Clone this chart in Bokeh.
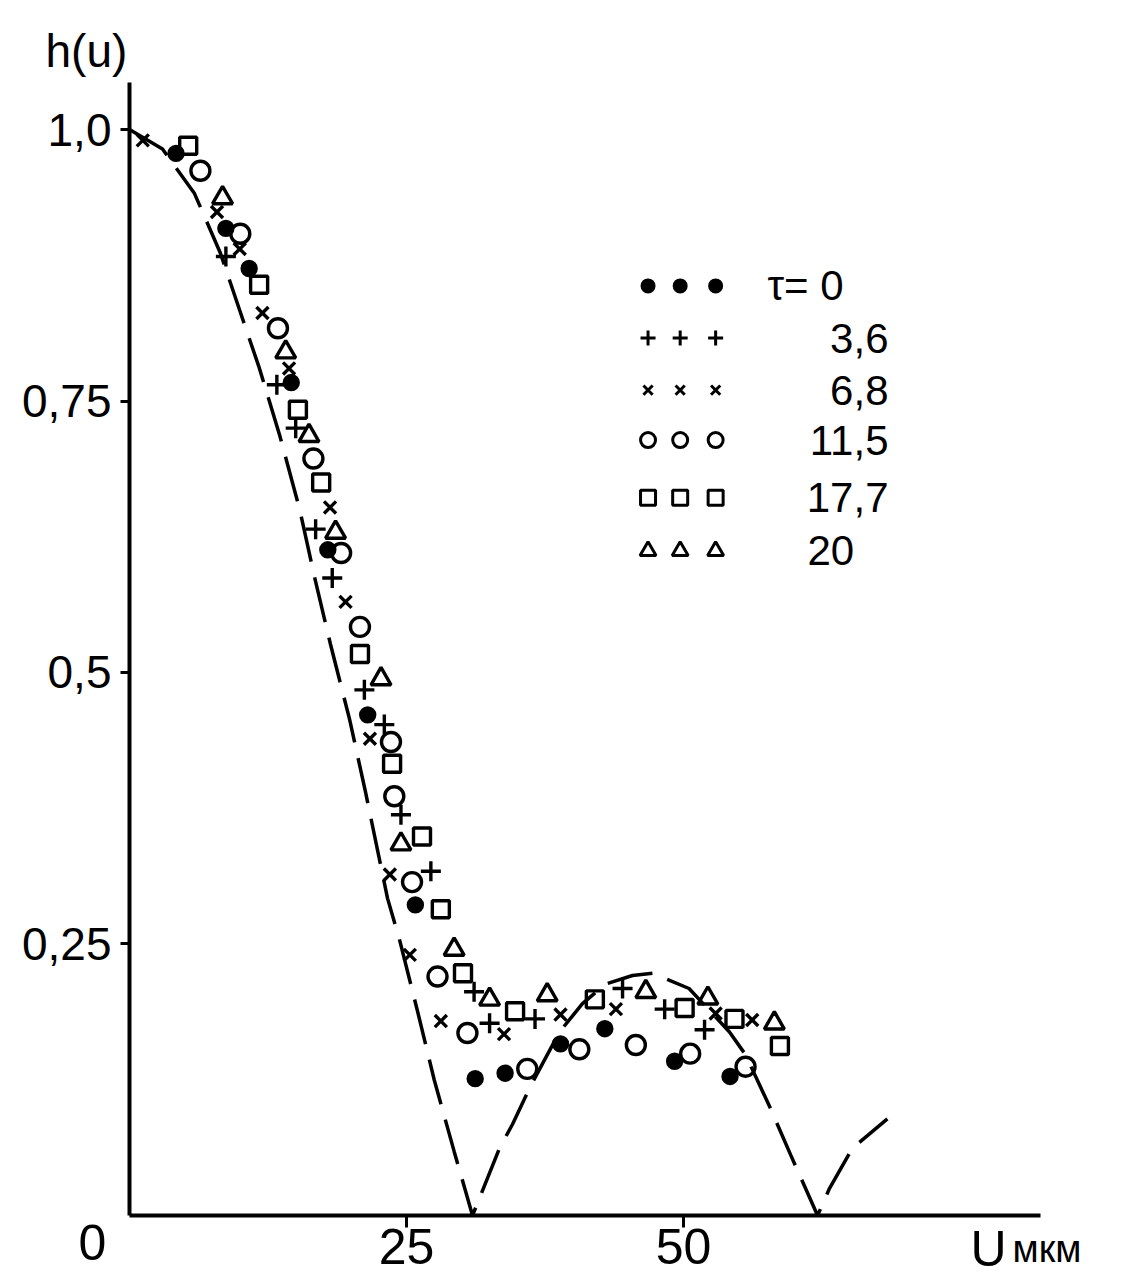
from bokeh.plotting import figure
from bokeh.models import Range1d, FixedTicker, Label, ColumnDataSource
from bokeh.core.properties import value
from bokeh.embed import file_html
from bokeh.resources import INLINE

FONT = "Liberation Sans"

# ---- data ----
# theoretical curve (dashed)
curve_u = [0, 2.98, 5.87, 8.21, 9.93, 11.73, 13.54, 15.34, 16.70, 18.14, 19.86, 21.3,
           23.29, 24.37, 26.0, 27.5, 29.3, 30.96, 33.4, 34.57, 36.19, 38.81, 40.88,
           42.96, 45.4, 47.2, 50.5, 54.15, 55.6, 57.85, 59.66, 62.1, 63.18, 65.25, 68.4]
curve_h = [1.0, 0.982, 0.941, 0.886, 0.834, 0.780, 0.719, 0.651, 0.588, 0.526, 0.457, 0.390,
           0.292, 0.254, 0.188, 0.125, 0.059, 0.0, 0.062, 0.084, 0.119, 0.169, 0.195,
           0.213, 0.221, 0.223, 0.209, 0.169, 0.148, 0.0985, 0.056, 0.0, 0.025, 0.062, 0.089]

# tau = 0 (filled dots)
u_t0 = [4.2, 8.7, 10.8, 14.6, 17.9, 21.5, 25.8, 31.2, 33.9, 38.9, 42.9, 49.2, 54.2]
h_t0 = [0.978, 0.909, 0.872, 0.767, 0.613, 0.461, 0.286, 0.126, 0.131, 0.158, 0.172, 0.142, 0.128]
# tau = 3.6 (+)
u_t1 = [8.7, 13.3, 15.0, 16.8, 18.3, 21.2, 23.0, 24.5, 27.2, 31.1, 32.5, 36.6, 44.5, 48.3, 51.9]
h_t1 = [0.883, 0.765, 0.725, 0.632, 0.587, 0.484, 0.452, 0.369, 0.317, 0.206, 0.177, 0.181, 0.209, 0.190, 0.171]
# tau = 6.8 (x)
u_t2 = [1.2, 7.9, 9.95, 12.0, 14.4, 18.1, 19.5, 21.7, 23.5, 25.3, 28.1, 33.8, 38.9, 43.9, 52.9, 56.2]
h_t2 = [0.99, 0.924, 0.890, 0.831, 0.780, 0.652, 0.565, 0.439, 0.314, 0.240, 0.179, 0.167, 0.185, 0.190, 0.186, 0.180]
# tau = 11.5 (o)
u_t3 = [6.4, 10.0, 13.4, 16.6, 19.1, 20.8, 23.6, 23.9, 25.5, 27.8, 30.5, 35.9, 40.6, 45.7, 50.6, 55.6]
h_t3 = [0.962, 0.904, 0.817, 0.697, 0.610, 0.542, 0.436, 0.386, 0.307, 0.220, 0.168, 0.135, 0.153, 0.157, 0.149, 0.137]
# tau = 17.7 (squares)
u_t4 = [5.3, 11.7, 15.2, 17.3, 20.8, 23.7, 26.4, 28.1, 30.1, 34.8, 42.0, 50.1, 54.6, 58.7]
h_t4 = [0.985, 0.857, 0.742, 0.675, 0.517, 0.416, 0.349, 0.282, 0.223, 0.188, 0.199, 0.191, 0.181, 0.156]
# tau = 20 (triangles)
u_t5 = [8.4, 14.1, 16.2, 18.6, 22.7, 24.5, 29.3, 32.5, 37.7, 46.6, 52.2, 58.2]
h_t5 = [0.937, 0.795, 0.718, 0.629, 0.494, 0.342, 0.245, 0.199, 0.203, 0.206, 0.200, 0.177]

tau_labels = ["τ=  0", "3,6", "6,8", "11,5", "17,7", "20"]
x_ticks = [25, 50]
x_tick_labels = ["25", "50"]
y_ticks = [0.25, 0.5, 0.75, 1.0]
y_tick_labels = ["0,25", "0,5", "0,75", "1,0"]
x_axis_end = 82.2
y_axis_end = 1.043

# ---- figure: frame fills the whole canvas, axes fixed at u=0 / h=0 ----
p = figure(width=1125, height=1276, x_range=Range1d(-11.64, 89.89), y_range=Range1d(-0.0562, 1.1188),
           output_backend="svg", toolbar_location=None,
           min_border=0, min_border_left=0, min_border_right=0, min_border_top=0, min_border_bottom=0)
p.grid.visible = False
p.outline_line_color = None

for ax in (p.xaxis[0], p.yaxis[0]):
    ax.fixed_location = 0
    ax.axis_line_width = 4
    ax.axis_line_color = "black"
    ax.major_tick_line_width = 3
    ax.major_tick_line_color = "black"
    ax.major_tick_in = 0
    ax.minor_tick_line_color = None
    ax.major_label_text_font = FONT
    ax.major_label_text_color = "black"

p.xaxis.bounds = (0, x_axis_end)
p.xaxis.ticker = FixedTicker(ticks=x_ticks)
p.xaxis.major_label_overrides = dict(zip(x_ticks, x_tick_labels))
p.xaxis.major_tick_out = 12
p.xaxis.major_label_standoff = 2
p.xaxis.major_label_text_font_size = "50px"

p.yaxis.bounds = (0, y_axis_end)
p.yaxis.ticker = FixedTicker(ticks=y_ticks)
p.yaxis.major_label_overrides = dict(zip(y_ticks, y_tick_labels))
p.yaxis.major_tick_out = 9
p.yaxis.major_label_standoff = 9
p.yaxis.major_label_text_font_size = "46px"

# dashed theoretical curve
p.line(curve_u, curve_h, line_color="black", line_width=3.5, line_dash="46 16")

series = [
    (u_t0, h_t0, "circle", 14, 12, True),
    (u_t1, h_t1, "cross", 20, 15, False),
    (u_t2, h_t2, "x", 17, 13, False),
    (u_t3, h_t3, "circle", 19, 15, False),
    (u_t4, h_t4, "square", 17, 15, False),
    (u_t5, h_t5, "triangle", 20, 16, False),
]

# legend layout (data units)
leg_marker_u = [46.8, 49.7, 52.9]
leg_row_h = [0.856, 0.808, 0.760, 0.714, 0.661, 0.612]
leg_text_u = [65.5, 68.5, 68.5, 68.5, 68.5, 65.4]

for i, (u, h, m, s, ls, filled) in enumerate(series):
    fill = "black" if filled else None
    p.scatter(u, h, marker=m, size=s, line_color="black", line_width=3.4, fill_color=fill)
    p.scatter(leg_marker_u, [leg_row_h[i]] * 3, marker=m, size=ls, line_color="black",
              line_width=3, fill_color=fill)

src = ColumnDataSource(dict(x=leg_text_u, y=leg_row_h, t=tau_labels))
p.text(x="x", y="y", text="t", source=src, text_font=value(FONT), text_font_size="42px",
       text_align="right", text_baseline="middle", text_color="black")

# axis titles and origin label (inside the frame, in data units)
p.add_layout(Label(x=-7.58, y=1.072, text="h(u)", text_font=FONT, text_color="black",
                   text_font_size="46px", text_align="left", text_baseline="alphabetic"))
p.add_layout(Label(x=-3.34, y=-0.0249, text="0", text_font=FONT, text_color="black",
                   text_font_size="50px", text_align="center", text_baseline="alphabetic"))
p.add_layout(Label(x=75.9, y=-0.0313, text="U", text_font=FONT, text_color="black",
                   text_font_size="50px", text_align="left", text_baseline="alphabetic"))
p.add_layout(Label(x=79.7, y=-0.0313, text="мкм", text_font=FONT, text_color="black",
                   text_font_size="38px", text_align="left", text_baseline="alphabetic"))

open("out.html", "w").write(file_html(p, INLINE))
